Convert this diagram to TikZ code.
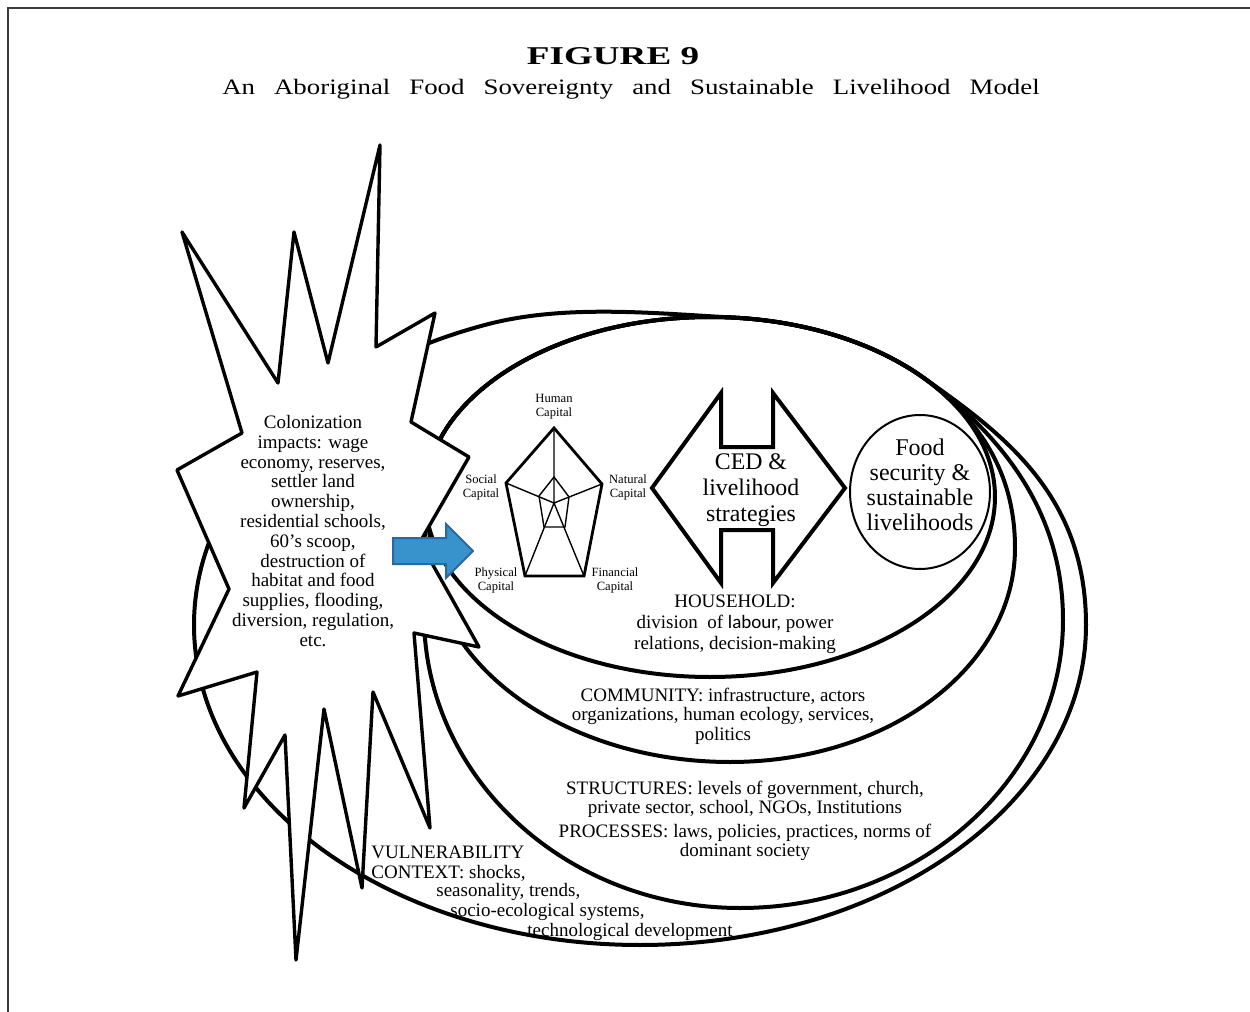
\documentclass[tikz,border=0pt]{standalone}
\usepackage{graphicx}
\usepackage{fontspec}
\setmainfont{Liberation Serif}
\newfontfamily\carl{Carlito}
\definecolor{arrowfill}{RGB}{56,146,204}
\definecolor{arrowline}{RGB}{44,104,160}
\definecolor{framegray}{RGB}{60,60,60}
\begin{document}
\begin{tikzpicture}[x=0.5pt,y=-0.5pt,
  ring/.style={line width=2pt, line join=round},
  burst/.style={line width=1.7pt, fill=white, line join=round},
  txt/.style={font=\fontsize{9.5}{10.5}\selectfont, align=center, inner sep=0pt},
  vtxt/.style={font=\fontsize{9.5}{10.5}\selectfont, anchor=west, inner sep=0pt},
  capl/.style={font=\fontsize{6.3}{7}\selectfont, align=center, inner sep=0pt},
  bigtxt/.style={font=\fontsize{11.9}{12.8}\selectfont, align=center, inner sep=0pt}]
\useasboundingbox (0,0) rectangle (1250,1012);
% frame
\draw[framegray, line width=0.75pt] (8,1012) -- (8,8) -- (1250,8);
% title
\node[font=\bfseries\fontsize{12.8}{14}\selectfont, inner sep=0pt] (figno) at (613,56) {\scalebox{1.45}[1]{FIGURE 9}};
\node[font=\fontsize{11}{13}\selectfont, inner sep=0pt] (subtitle) at (631,89) {\scalebox{1.22}[1]{\makebox[335pt][s]{An Aboriginal Food Sovereignty and Sustainable Livelihood Model}}};
% vulnerability context ring (joins the household ring along the top)
\draw[ring] (487.5,324.3) .. controls (565,304) and (655,313.3) .. (734.8,317.7)
  arc[start angle=275, end angle=318, x radius=285, y radius=180]
  .. controls (1003.7,434) and (1086,495) .. (1086,625)
  arc[start angle=0, end angle=250, x radius=446, y radius=320] -- cycle;
% structures & processes ring (shares the household ring's upper arc)
\draw[ring] (928.3,381.3) .. controls (1000.2,435.4) and (1063,510) .. (1063,620)
  .. controls (1063,779) and (918,908) .. (740,908)
  .. controls (566,908) and (424,777) .. (424,615)
  .. controls (424,570) and (425,540) .. (425,497)
  arc[start angle=180, end angle=320, x radius=285, y radius=180] -- cycle;
% community ring
\draw[ring] (943.5,393.8) .. controls (984.4,430.6) and (1015,478) .. (1015,548)
  .. controls (1015,666) and (890,762) .. (730,762)
  .. controls (566,762) and (430,665) .. (430,545)
  .. controls (430,525) and (425,517) .. (425,497)
  arc[start angle=180, end angle=325, x radius=285, y radius=180] -- cycle;
% household ring
\draw[ring] (710,497) ellipse [x radius=285, y radius=180];
% colonization burst
\draw[burst] (182,232) -- (278,383) -- (294,232) -- (328,363) -- (380,145) -- (376,347)
  -- (435,313) -- (411,422) -- (469,457) -- (420,542) -- (479,647) -- (414,633)
  -- (430,828) -- (373,692) -- (362,888) -- (324,709) -- (296,960) -- (285,735)
  -- (244,808) -- (257,672) -- (178,696) -- (229,589) -- (177,470) -- (242,433) -- cycle;
\node[txt, font=\fontsize{9.5}{9.9}\selectfont] (colon) at (313,531) {Colonization\\impacts: wage\\economy, reserves,\\settler land\\ownership,\\residential schools,\\60’s scoop,\\destruction of\\habitat and food\\supplies, flooding,\\diversion, regulation,\\etc.};
% pentagon of capitals
\coordinate (pc) at (554,503);
\coordinate (ph) at (554,428);
\coordinate (pn) at (602,484);
\coordinate (pf) at (584,576);
\coordinate (pp) at (525,576);
\coordinate (ps) at (506,483);
\draw[line width=0.7pt] (554,477) -- (569,497) -- (565,527) -- (544,527) -- (539,496) -- cycle;
\draw[line width=0.7pt] (pc) -- (ph) (pc) -- (pn) (pc) -- (pf) (pc) -- (pp) (pc) -- (ps);
\draw[line width=1.4pt, line join=miter] (ph) -- (pn) -- (pf) -- (pp) -- (ps) -- cycle;
\node[capl] (human) at (554,407) {Human\\Capital};
\node[capl] (social) at (481,487) {Social\\Capital};
\node[capl] (natural) at (628,487) {Natural\\Capital};
\node[capl] (physical) at (496,580) {Physical\\Capital};
\node[capl] (financial) at (615,580) {Financial\\Capital};
% CED double arrow
\draw[line width=2pt, line join=miter] (652,488) -- (721,393) -- (721,447) -- (773,447) -- (773,393)
  -- (845,488) -- (773,583) -- (773,530) -- (721,530) -- (721,583) -- cycle;
\node[bigtxt, font=\fontsize{11.9}{13}\selectfont] (ced) at (751,490) {CED \&\\livelihood\\strategies};
% food security circle
\draw[line width=1pt] (920,492) ellipse [x radius=70, y radius=77];
\node[bigtxt, font=\fontsize{12}{12.5}\selectfont] (food) at (920,485) {Food\\security \&\\sustainable\\livelihoods};
% ring labels
\node[txt] (house) at (735,624) {HOUSEHOLD:\\division\ \ of {\carl labour,} power\\relations, decision-making};
\node[txt, font=\fontsize{9.5}{9.7}\selectfont] (comm) at (723,716) {COMMUNITY: infrastructure, actors\\organizations, human ecology, services,\\politics};
\node[txt, font=\fontsize{9.5}{9.6}\selectfont] (struct) at (745,821) {STRUCTURES: levels of government, church,\\private sector, school, NGOs, Institutions\\[2.5pt]PROCESSES: laws, policies, practices, norms of\\dominant society};
\node[vtxt] (vul1) at (371,852) {VULNERABILITY};
\node[vtxt] (vul2) at (371,873) {CONTEXT: shocks,};
\node[vtxt] (vul3) at (436,892) {seasonality, trends,};
\node[vtxt] (vul4) at (450,912) {socio-ecological systems,};
\node[vtxt] (vul5) at (527,932) {technological development};
% blue arrow
\draw[fill=arrowfill, draw=arrowline, line width=1pt, line join=miter] (393,538) -- (446,538) -- (446,524)
  -- (473,551) -- (446,578) -- (446,564) -- (393,564) -- cycle;
\end{tikzpicture}
\end{document}
